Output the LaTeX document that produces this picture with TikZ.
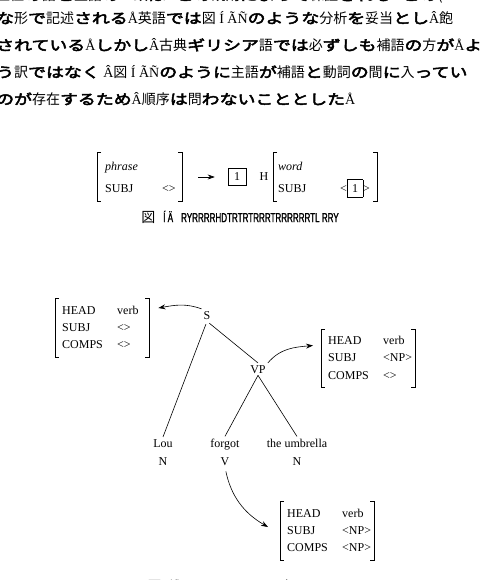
\documentclass[tikz,border=0pt]{standalone}
\usepackage{fontspec}
\setmainfont{Liberation Serif}
\newfontfamily\jpfont{Noto Sans CJK JP}
\newfontfamily\kanafont[FakeBold=3.5,FakeStretch=1.28]{Noto Sans CJK JP}
\newfontfamily\capfont[FakeBold=1.5,FakeStretch=0.62]{Liberation Sans}
\usetikzlibrary{positioning, arrows.meta, calc}

\newcommand{\kn}[1]{{\kanafont #1}}
\newcommand{\gl}[1]{{\rmfamily #1}}
\newcommand{\tagbox}[1]{{\setlength{\fboxsep}{4.5pt}\setlength{\fboxrule}{0.6pt}\fbox{#1}}}
% three-row feature matrix
\newcommand{\feat}[3]{{\renewcommand{\arraystretch}{1.2}%
  \begin{tabular}{@{}p{55pt}@{}p{25pt}@{}}
    HEAD & #1\\ SUBJ & #2\\ COMPS & #3
  \end{tabular}}}
% brackets round an avm node
\newcommand{\brackets}[1]{%
  \draw[bracket] ([xshift=4pt]#1.north west) -- (#1.north west) -- (#1.south west) -- ([xshift=4pt]#1.south west);
  \draw[bracket] ([xshift=-4pt]#1.north east) -- (#1.north east) -- (#1.south east) -- ([xshift=-4pt]#1.south east);}

\begin{document}
\begin{tikzpicture}[
    x=1pt, y=-1pt,
    every node/.style={font=\fontsize{12}{14.5}\selectfont},
    jpline/.style={anchor=west, inner sep=0pt, font=\fontsize{14}{16}\selectfont\jpfont},
    avm/.style={anchor=west, inner xsep=7pt, inner ysep=3pt},
    bracket/.style={line width=0.7pt},
    tagnode/.style={draw, line width=0.6pt, minimum width=18pt, minimum height=17pt, inner sep=0pt},
    word/.style={anchor=base, inner sep=2pt},
    branch/.style={line width=0.6pt},
    link/.style={line width=0.6pt, -{Stealth[length=7pt,width=5pt]}}
]
    \clip (0,0) rectangle (479,580);

    % running text above the figure
    \node[jpline] (line0) at (-4,-4) {上位\kn{の}語\kn{と}主語\kn{の}一致\kn{は}\gl{Å}\kn{この}規則\kn{によって}保証\kn{される}\gl{Å}\kn{この}(};
    \node[jpline] (line1) at (-4,18) {\kn{な}形\kn{で}記述\kn{される}\gl{Å}英語\kn{では}図\gl{ Í ÃÑ}\kn{のような}分析\kn{を}妥当\kn{とし}\gl{Â}飽};
    \node[jpline] (line2) at (-4,45) {\kn{されている}\gl{Å}\kn{しかし}\gl{Â}古典\kn{ギリシア}語\kn{では}必\kn{ずしも}補語\kn{の}方\kn{が}\gl{Å}\kn{よ}};
    \node[jpline] (line3) at (-4,72) {\kn{う}訳\kn{ではなく}\gl{ Â}図\gl{ Í ÃÑ}\kn{のように}主語\kn{が}補語\kn{と}動詞\kn{の}間\kn{に}入\kn{ってい}};
    \node[jpline] (line4) at (-4,99) {\kn{のが}存在\kn{するため}\gl{Â}順序\kn{は}問\kn{わないこととした}\gl{Å}};

    % rule
    \node[avm, inner xsep=8pt, inner ysep=2.5pt] (phrase) at (97,177) {{\renewcommand{\arraystretch}{1.5}%
      \begin{tabular}{@{}p{57pt}@{}p{12pt}@{}}\textit{phrase} & \\ SUBJ & <>\end{tabular}}};
    \node[tagnode] (tag) at (237,177) {1};
    \node (H) at (264,177) {H};
    \node[avm, inner xsep=5pt, inner ysep=2.5pt] (word) at (273,177) {{\renewcommand{\arraystretch}{1.5}%
      \begin{tabular}{@{}p{62pt}@{}p{32pt}@{}}\textit{word} & \\ SUBJ & <\tagbox{1}>\end{tabular}}};
    \brackets{phrase}
    \brackets{word}
    \draw[link, shorten <=16pt, shorten >=13pt] (phrase) -- (tag);

    \node (cap1) at (240,217) {{\fontsize{14}{16}\selectfont\jpfont 図}\hspace{8pt}{\fontsize{13}{15}\selectfont\capfont Í Ä\hspace{8pt}RYRRRRHDTRTRTRRRTRRRRRRTL RRY}};

    % tree
    \node[word] (S) at (207,319) {S};
    \node[word] (VP) at (258,373) {VP};
    \node[word] (Lou) at (163,447) {Lou};
    \node[word] (forgot) at (225,447) {forgot};
    \node[word] (umb) at (297,447) {the umbrella};
    \node[word] (n1) at (163,465) {N};
    \node[word] (v1) at (225,465) {V};
    \node[word] (n2) at (297,465) {N};

    \draw[branch, shorten <=3pt] (S.south) -- (Lou.north);
    \draw[branch, shorten <=3pt] (S.south) -- (VP.north);
    \draw[branch] (VP.south) -- (forgot.north);
    \draw[branch] (VP.south) -- (umb.north);

    % feature matrices
    \node[avm] (avmA) at (55,328) {\feat{verb}{<>}{<>}};
    \node[avm] (avmB) at (321,358.5) {\feat{verb}{<NP>}{<>}};
    \node[avm] (avmC) at (280,531) {\feat{verb}{<NP>}{<NP>}};
    \brackets{avmA}
    \brackets{avmB}
    \brackets{avmC}

    \draw[link] (S.north west) to[out=160, in=10] ([xshift=9pt, yshift=20pt]avmA.east);
    \draw[link] (VP.north east) to[out=50, in=185] ([xshift=-8pt, yshift=13pt]avmB.west);
    \draw[link, shorten <=4pt] (v1.south) to[out=-78, in=150] ([xshift=-12pt, yshift=4pt]avmC.west);

    \node (cap2) at (240,586) {{\fontsize{14}{16}\selectfont\jpfont 図}\hspace{8pt}{\fontsize{13}{15}\selectfont\capfont Í Ã\hspace{8pt}RTRRRRRTRRRRRTRRR Î RRRR RRY}};
\end{tikzpicture}
\end{document}
